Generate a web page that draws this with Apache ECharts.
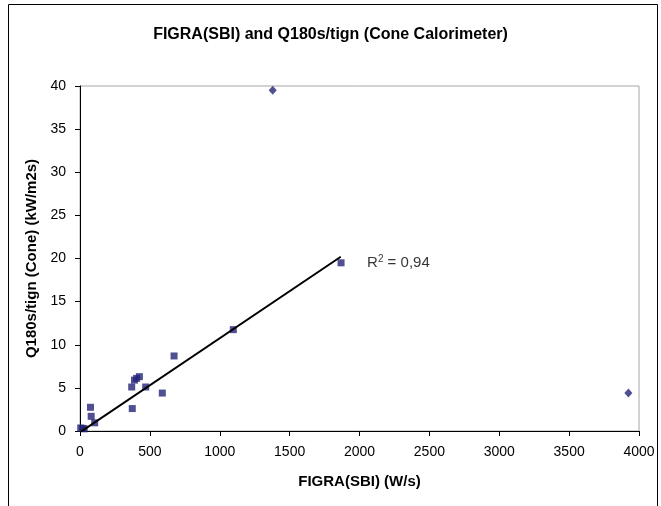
<!DOCTYPE html>
<html>
<head>
<meta charset="utf-8">
<script src="https://cdn.jsdelivr.net/npm/echarts@6/dist/echarts.min.js"></script>
<style>
html,body{margin:0;padding:0;background:#fff;}
#chart{width:661px;height:506px;}
</style>
</head>
<body>
<div id="chart"></div>
<script>
// FIGRA(SBI) [W/s] vs Q180s/tign [kW/m2s] — points included in the fit
const fitX = [5, 20, 30, 75, 80, 105, 370, 374, 390, 405, 425, 470, 589, 673, 1097, 1868];
const fitY = [0.35, 0.3, 0.25, 2.75, 1.7, 0.95, 5.1, 2.6, 5.9, 6.1, 6.3, 5.1, 4.4, 8.7, 11.75, 19.5];
// outliers (diamonds)
const outX = [1379, 3924];
const outY = [39.5, 4.4];
// trend line end points
const trendX = [5, 1866];
const trendY = [-0.1, 20.2];
// annotation anchor
const r2X = [2054];
const r2Y = [19.5];
const r2Text = '0,94';

const zip = (a, b) => a.map((v, i) => [v, b[i]]);
const navy = '#232377';
const font = 'Liberation Sans, Arial, sans-serif';

const chart = echarts.init(document.getElementById('chart'));
chart.setOption({
  backgroundColor: '#fff',
  animation: false,
  title: {
    text: 'FIGRA(SBI) and Q180s/tign (Cone Calorimeter)',
    left: 'center',
    top: 22,
    textStyle: {fontFamily: font, fontSize: 16, fontWeight: 'bold', color: '#000'}
  },
  graphic: [{
    type: 'rect', left: 6, top: 2, z: -1,
    shape: {width: 649, height: 520},
    style: {fill: 'none', stroke: '#000', lineWidth: 1}
  }],
  grid: {left: 80, right: 22, top: 86, bottom: 75, show: true, borderColor: '#a6a6a6', borderWidth: 1},
  xAxis: {
    type: 'value', min: 0, max: 4000, interval: 500,
    name: 'FIGRA(SBI) (W/s)', nameLocation: 'middle', nameGap: 43,
    nameTextStyle: {fontFamily: font, fontSize: 15, fontWeight: 'bold', color: '#000'},
    axisLine: {show: true, lineStyle: {color: '#000', width: 1}},
    axisTick: {show: true, length: 5, lineStyle: {color: '#000'}},
    axisLabel: {fontFamily: font, fontSize: 14, color: '#000', margin: 14, formatter: v => String(v)},
    splitLine: {show: false}
  },
  yAxis: {
    type: 'value', min: 0, max: 40, interval: 5,
    name: 'Q180s/tign (Cone) (kW/m2s)', nameLocation: 'middle', nameGap: 40,
    nameTextStyle: {fontFamily: font, fontSize: 15, fontWeight: 'bold', color: '#000'},
    axisLine: {show: true, lineStyle: {color: '#000', width: 1}},
    axisTick: {show: true, length: 5, lineStyle: {color: '#000'}},
    axisLabel: {fontFamily: font, fontSize: 14, color: '#000', margin: 14, formatter: v => String(v)},
    splitLine: {show: false}
  },
  series: [
    {
      type: 'line', data: zip(trendX, trendY), symbol: 'none',
      lineStyle: {color: '#000', width: 2}, z: 3, clip: true
    },
    {
      type: 'scatter', data: zip(fitX, fitY), symbol: 'rect', symbolSize: 7,
      itemStyle: {color: navy}, z: 2
    },
    {
      type: 'scatter', data: zip(outX, outY), symbol: 'diamond', symbolSize: [8, 9],
      itemStyle: {color: navy}, z: 2
    },
    {
      type: 'scatter', data: zip(r2X, r2Y), symbolSize: 0, silent: true,
      label: {
        show: true, position: 'right', distance: 0,
        formatter: () => 'R{sup|2}{n| = ' + r2Text + '}',
        rich: {
          sup: {fontFamily: font, fontSize: 10, color: '#000', padding: [0, 0, 8, 0]},
          n: {fontFamily: font, fontSize: 15, color: '#000'}
        },
        fontFamily: font, fontSize: 15, color: '#000'
      }
    }
  ]
});
</script>
</body>
</html>
